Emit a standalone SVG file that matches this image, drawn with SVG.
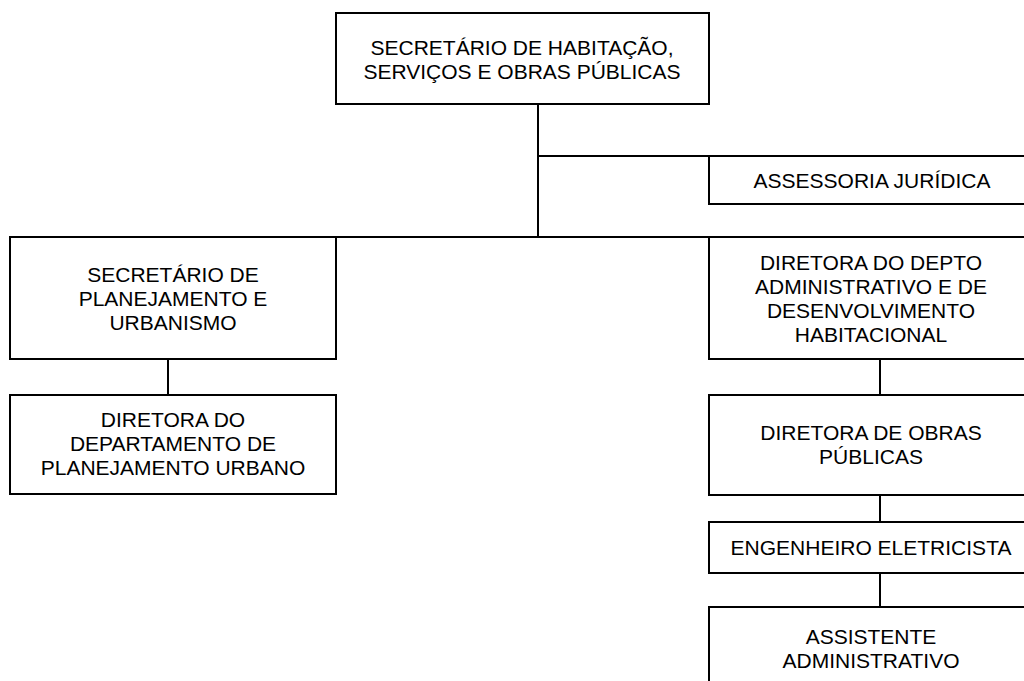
<svg xmlns="http://www.w3.org/2000/svg" width="1024" height="681" viewBox="0 0 1024 681">
<style>
.box{fill:#fff;stroke:#000;stroke-width:2}
.lbl{font-family:"Liberation Sans",Arial,sans-serif;font-size:21px;fill:#000;text-anchor:middle}
.con{stroke:#000;stroke-width:2;fill:none}
</style>
<rect width="1024" height="681" fill="#fff"/>
<g id="connectors">
<line class="con" x1="538" y1="104" x2="538" y2="237"/>
<line class="con" x1="538" y1="156" x2="709" y2="156"/>
<line class="con" x1="336" y1="237" x2="709" y2="237"/>
<line class="con" x1="168" y1="359" x2="168" y2="395"/>
<line class="con" x1="880" y1="359" x2="880" y2="395"/>
<line class="con" x1="880" y1="495" x2="880" y2="522"/>
<line class="con" x1="880" y1="573" x2="880" y2="607"/>
</g>
<g id="n-secretario-habitacao">
<rect class="box" x="336" y="13" width="373" height="91"/>
<text class="lbl" x="522" y="55">SECRETÁRIO DE HABITAÇÃO,</text>
<text class="lbl" x="522" y="79">SERVIÇOS E OBRAS PÚBLICAS</text>
</g>
<g id="n-assessoria">
<rect class="box" x="709" y="156" width="330" height="48"/>
<text class="lbl" x="872" y="188">ASSESSORIA JURÍDICA</text>
</g>
<g id="n-secretario-planejamento">
<rect class="box" x="10" y="237" width="326" height="122"/>
<text class="lbl" x="173" y="282">SECRETÁRIO DE</text>
<text class="lbl" x="173" y="306">PLANEJAMENTO E</text>
<text class="lbl" x="173" y="330">URBANISMO</text>
</g>
<g id="n-diretora-planejamento">
<rect class="box" x="10" y="395" width="326" height="99"/>
<text class="lbl" x="173" y="427">DIRETORA DO</text>
<text class="lbl" x="173" y="451">DEPARTAMENTO DE</text>
<text class="lbl" x="173" y="475">PLANEJAMENTO URBANO</text>
</g>
<g id="n-diretora-depto">
<rect class="box" x="709" y="237" width="330" height="122"/>
<text class="lbl" x="871" y="270">DIRETORA DO DEPTO</text>
<text class="lbl" x="871" y="294">ADMINISTRATIVO E DE</text>
<text class="lbl" x="871" y="318">DESENVOLVIMENTO</text>
<text class="lbl" x="871" y="342">HABITACIONAL</text>
</g>
<g id="n-diretora-obras">
<rect class="box" x="709" y="395" width="330" height="100"/>
<text class="lbl" x="871" y="440">DIRETORA DE OBRAS</text>
<text class="lbl" x="871" y="464">PÚBLICAS</text>
</g>
<g id="n-engenheiro">
<rect class="box" x="709" y="522" width="330" height="51"/>
<text class="lbl" x="871" y="555">ENGENHEIRO ELETRICISTA</text>
</g>
<g id="n-assistente">
<rect class="box" x="709" y="607" width="330" height="100"/>
<text class="lbl" x="871" y="644">ASSISTENTE</text>
<text class="lbl" x="871" y="668">ADMINISTRATIVO</text>
</g>
</svg>
